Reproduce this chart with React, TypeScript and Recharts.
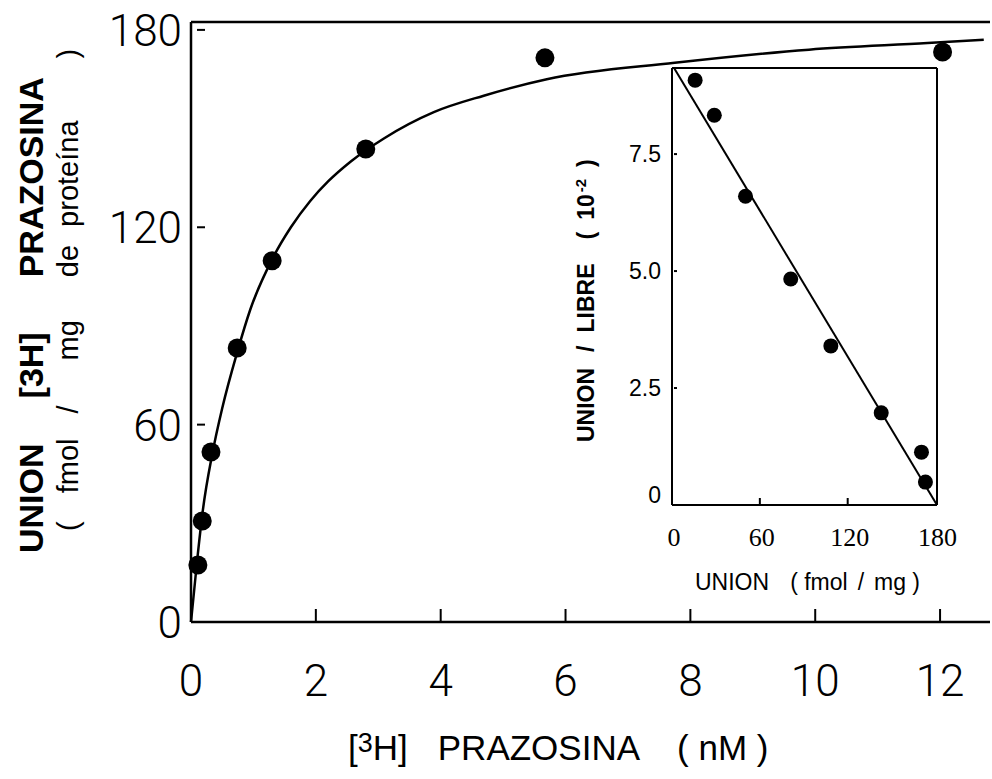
import React from "react";
import { ComposedChart, Line, Scatter, XAxis, YAxis } from "recharts";

// saturation curve: [3H] prazosin (nM) vs bound (fmol/mg protein)
const boundX = [0.11, 0.18, 0.32, 0.74, 1.3, 2.8, 5.67, 12.04];
const boundY = [17.3, 30.7, 51.7, 83.3, 109.8, 143.8, 171.5, 173.3];
const fitX = [0, 0.1, 0.19, 0.34, 0.5, 0.74, 0.95, 1.32, 1.6, 1.91, 2.2, 2.56, 3.09, 3.89, 4.69, 5.7, 7.75, 9.9, 11.8, 12.7];
const fitY = [0, 19, 34, 51, 65, 82, 95, 111, 120, 128, 134, 140, 147, 155, 160, 165, 170, 174, 176, 177];
const mainXTicks = [0, 2, 4, 6, 8, 10, 12];
const mainYTicks = [0, 60, 120, 180];

// scatchard inset: bound vs bound/free (10^-2)
const scatX = [15.8, 28.9, 50.2, 81.1, 108.5, 142.9, 170.4, 173.1];
const scatY = [9.08, 8.33, 6.6, 4.83, 3.4, 1.97, 1.13, 0.49];
const regX = [1.4, 181];
const regY = [9.34, 0];
const insetXTicks = [0, 60, 120, 180];
const insetYTicks = [0, 2.5, 5, 7.5];

const saturation = boundX.map((x, i) => ({ x, y: boundY[i] }));
const fit = fitX.map((x, i) => ({ x, y: fitY[i] }));
const scatchard = scatX.map((x, i) => ({ x, y: scatY[i] }));
const regression = regX.map((x, i) => ({ x, y: regY[i] }));

const INK = "#000";
const THIN = "Roboto, 'Liberation Sans', sans-serif";
const SANS = "'Liberation Sans', Arial, sans-serif";

function BottomTick({ x, y, payload }: any) {
  return (
    <g>
      {payload.value !== 0 && <line x1={x} y1={y} x2={x} y2={y - 13} stroke={INK} strokeWidth={2} />}
      <text x={x} y={y + 74} textAnchor="middle" fontFamily={THIN} fontWeight={300} fontSize={44} fill={INK}>
        {payload.value}
      </text>
    </g>
  );
}

function TopTick({ x, y, payload }: any) {
  if (payload.value === 0) return null;
  return <line x1={x} y1={y} x2={x} y2={y + 13} stroke={INK} strokeWidth={2} />;
}

function LeftTick({ x, y, payload }: any) {
  return (
    <g>
      {payload.value !== 0 && <line x1={x + 6} y1={y} x2={x + 14} y2={y} stroke={INK} strokeWidth={2} />}
      <text x={x - 9} y={y + 16} textAnchor="end" fontFamily={THIN} fontWeight={300} fontSize={44} fill={INK}>
        {payload.value}
      </text>
    </g>
  );
}

function RightTick({ x, y, payload }: any) {
  if (payload.value === 0) return null;
  return <line x1={x - 13} y1={y} x2={x - 5} y2={y} stroke={INK} strokeWidth={2} />;
}

function MainYLabel() {
  return (
    <g>
      <text transform="translate(43 553) rotate(-90)" fontFamily={SANS} fontWeight={700} fontSize={34} fill={INK}>
        <tspan>UNION</tspan>
        <tspan dx={45}>[3H]</tspan>
        <tspan dx={55}>PRAZOSINA</tspan>
      </text>
      <text transform="translate(78 531) rotate(-90)" fontFamily={SANS} fontSize={29} fill={INK}>
        <tspan>(</tspan>
        <tspan dx={28}>fmol</tspan>
        <tspan dx={25}>/</tspan>
        <tspan dx={45}>mg</tspan>
        <tspan dx={43}>de</tspan>
        <tspan dx={18}>proteína</tspan>
        <tspan dx={62}>)</tspan>
      </text>
    </g>
  );
}

function MainXLabel() {
  return (
    <text x={348} y={760} fontFamily={SANS} fontSize={35} fill={INK}>
      <tspan>[</tspan>
      <tspan fontSize={27} dy={-8}>3</tspan>
      <tspan dy={8}>H]</tspan>
      <tspan dx={30}>PRAZOSINA</tspan>
      <tspan dx={37}>( nM )</tspan>
    </text>
  );
}

function InsetBottomTick({ x, y, payload }: any) {
  return (
    <g>
      {payload.value === 60 || payload.value === 120 ? (
        <line x1={x} y1={y} x2={x} y2={y - 7} stroke={INK} strokeWidth={2} />
      ) : null}
      <text x={x + 2} y={y + 41} textAnchor="middle" fontFamily="'Liberation Serif', serif" fontSize={26} fill={INK}>
        {payload.value}
      </text>
    </g>
  );
}

function InsetTopTick({ x, y, payload }: any) {
  if (payload.value === 0) return null;
  return <line x1={x} y1={y} x2={x} y2={y + 8} stroke={INK} strokeWidth={2} />;
}

function InsetLeftTick({ x, y, payload }: any) {
  const v = payload.value;
  return (
    <g>
      <line x1={x + 2} y1={y} x2={x + 5} y2={y} stroke={INK} strokeWidth={2} />
      <text x={x - 11} y={v === 0 ? y - 2 : y + 8} textAnchor="end" fontFamily={SANS} fontSize={23} fill={INK}>
        {v === 0 ? "0" : v.toFixed(1)}
      </text>
    </g>
  );
}

// inset chart sits at (540, 40) on the page
function InsetYLabel() {
  return (
    <text transform={`translate(${594 - 540} ${442 - 40}) rotate(-90)`} fontFamily={SANS} fontWeight={700}
      fontSize={23} fill={INK}>
      <tspan>UNION</tspan>
      <tspan dx={16}>/</tspan>
      <tspan dx={13}>LIBRE</tspan>
      <tspan dx={24}>(</tspan>
      <tspan dx={12}>10</tspan>
      <tspan fontSize={15} dx={2} dy={-8}>-2</tspan>
      <tspan dx={12} dy={8}>)</tspan>
    </text>
  );
}

function InsetXLabel() {
  return (
    <text x={695 - 540} y={590 - 40} fontFamily={SANS} fontSize={23} fill={INK}>
      <tspan>UNION</tspan>
      <tspan dx={21}>( fmol</tspan>
      <tspan dx={10}>/</tspan>
      <tspan dx={10}>mg )</tspan>
    </text>
  );
}

const dot = (r: number) => (p: any) => <circle cx={p.cx} cy={p.cy} r={r} fill={INK} />;

export default function App() {
  return (
    <div style={{ position: "absolute", left: 0, top: 0, width: 992, height: 779, background: "#fff" }}>
      <ComposedChart width={992} height={779} margin={{ top: 0, right: 0, bottom: 0, left: 0 }}>
        <XAxis type="number" dataKey="x" domain={[0, 12.8]} ticks={mainXTicks} height={157}
          tickSize={0} tickMargin={0} tickLine={false} axisLine={{ stroke: INK, strokeWidth: 2.5 }}
          tick={<BottomTick />} label={<MainXLabel />} interval={0} />
        <XAxis xAxisId="top" orientation="top" type="number" dataKey="x" domain={[0, 12.8]} ticks={mainXTicks}
          height={22} tickSize={0} tickMargin={0} tickLine={false} axisLine={{ stroke: INK, strokeWidth: 2.5 }}
          tick={<TopTick />} interval={0} />
        <YAxis type="number" domain={[0, 182.4]} ticks={mainYTicks} width={191} tickSize={0} tickMargin={0}
          tickLine={false} axisLine={{ stroke: INK, strokeWidth: 2.5 }} tick={<LeftTick />}
          label={<MainYLabel />} interval={0} />
        <YAxis yAxisId="right" orientation="right" type="number" domain={[0, 182.4]} ticks={mainYTicks} width={2}
          tickSize={0} tickMargin={0} tickLine={false} axisLine={false} tick={<RightTick />} interval={0} />
        <Line data={fit} dataKey="y" type="monotone" dot={false} stroke={INK} strokeWidth={2.5}
          isAnimationActive={false} />
        <Scatter data={saturation} dataKey="y" shape={dot(9.5)} isAnimationActive={false} />
      </ComposedChart>

      <div style={{ position: "absolute", left: 540, top: 40 }}>
        <ComposedChart width={420} height={580} margin={{ top: 0, right: 0, bottom: 0, left: 0 }}>
          <XAxis type="number" dataKey="x" domain={[0, 181]} ticks={insetXTicks} height={115}
            tickSize={0} tickMargin={0} tickLine={false} axisLine={{ stroke: INK, strokeWidth: 2 }}
            tick={<InsetBottomTick />} label={<InsetXLabel />} interval={0} />
          <XAxis xAxisId="top" orientation="top" type="number" dataKey="x" domain={[0, 181]} ticks={insetXTicks}
            height={28} tickSize={0} tickMargin={0} tickLine={false} axisLine={{ stroke: INK, strokeWidth: 2 }}
            tick={<InsetTopTick />} interval={0} />
          <YAxis type="number" domain={[0, 9.34]} ticks={insetYTicks} width={132} tickSize={0} tickMargin={0}
            tickLine={false} axisLine={{ stroke: INK, strokeWidth: 2 }} tick={<InsetLeftTick />}
            label={<InsetYLabel />} interval={0} />
          <YAxis yAxisId="right" orientation="right" type="number" domain={[0, 9.34]} width={23}
            tick={false} tickLine={false} axisLine={{ stroke: INK, strokeWidth: 2 }} />
          <Line data={regression} dataKey="y" type="linear" dot={false} stroke={INK} strokeWidth={2}
            isAnimationActive={false} />
          <Scatter data={scatchard} dataKey="y" shape={dot(7.5)} isAnimationActive={false} />
        </ComposedChart>
      </div>
    </div>
  );
}
